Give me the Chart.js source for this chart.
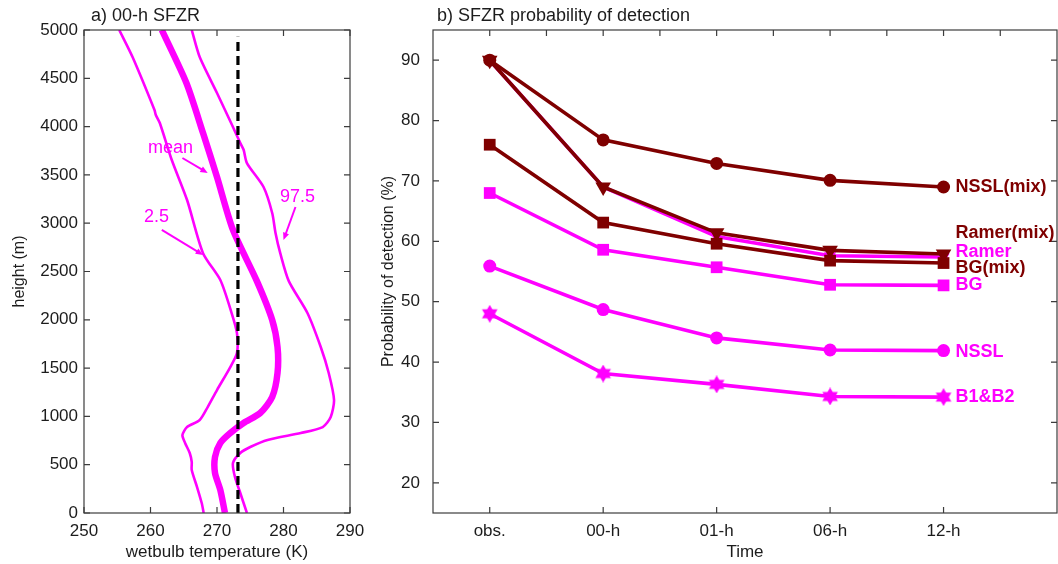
<!DOCTYPE html>
<html>
<head>
<meta charset="utf-8">
<script src="https://cdn.jsdelivr.net/npm/chart.js@4.4.1/dist/chart.umd.min.js"></script>
<style>
  html, body { margin: 0; padding: 0; background: #fff; }
  #wrap { position: relative; width: 1058px; height: 564px; overflow: hidden; }
  #left { position: absolute; left: 0; top: 0; }
  #right { position: absolute; left: 365px; top: 0; }
</style>
</head>
<body>
<div id="wrap">
  <canvas id="left" width="365" height="564" style="width:365px;height:564px"></canvas>
  <canvas id="right" width="693" height="564" style="width:693px;height:564px"></canvas>
</div>
<script>
// ---- panel a: wet-bulb profiles (K vs m) ----
const tempTicks = [250, 260, 270, 280, 290];
const heightTicks = [0, 500, 1000, 1500, 2000, 2500, 3000, 3500, 4000, 4500, 5000];

const lowT = [255.3, 257.3, 260.6, 260.8, 261.4, 263.2, 265.5, 267.9, 270.5, 272.2, 273.0, 273.0, 272.0, 270.0, 268.6, 267.4, 265.5, 264.8, 265.2, 265.9, 266.2, 266.2, 267.0, 267.7, 268.0];
const lowH = [5000, 4720, 4172, 4120, 4037, 3654, 3240, 2690, 2412, 2070, 1863, 1656, 1511, 1273, 1097, 963, 890, 807, 725, 621, 528, 445, 269, 103, 0];

const meanT = [261.7, 265.4, 267.9, 270.0, 272.4, 276.0, 278.3, 279.1, 279.1, 278.3, 276.5, 274.0, 272.0, 270.5, 269.7, 269.7, 270.5, 271.2];
const meanH = [5000, 4451, 3933, 3478, 2930, 2400, 1998, 1718, 1449, 1201, 1035, 932, 828, 725, 580, 414, 238, 0];

const highT = [266.2, 267.4, 270.0, 272.4, 273.5, 274.0, 274.5, 277.0, 278.3, 278.8, 279.5, 280.8, 283.6, 285.6, 286.8, 287.6, 287.1, 285.9, 282.6, 277.6, 275.0, 273.5, 272.4, 272.7, 273.5, 274.5];
const highH = [5000, 4720, 4348, 3996, 3830, 3760, 3623, 3375, 3106, 2899, 2692, 2400, 2070, 1718, 1449, 1170, 994, 890, 828, 756, 683, 621, 518, 373, 207, 0];

const freezingT = [273.15, 273.15];
const freezingH = [0, 4930];

// ---- panel b: probability of detection (%) ----
const categories = ["obs.", "00-h", "01-h", "06-h", "12-h"];
const podTicks = [20, 30, 40, 50, 60, 70, 80, 90];
const nsslMix = [90, 76.8, 72.9, 70.1, 69.0];
const ramerMix = [90, 69.0, 61.4, 58.5, 57.9];
const bgMix = [76.0, 63.1, 59.6, 56.8, 56.4];
const ramer = [90, 69.0, 60.8, 57.6, 57.4];
const bg = [68.0, 58.6, 55.7, 52.8, 52.7];
const nssl = [55.9, 48.7, 44.0, 42.0, 41.9];
const b1b2 = [48.0, 38.1, 36.3, 34.3, 34.2];

const MAGENTA = "#ff00ff";
const DARK = "#7f0000";
const INK = "#1c1c1c";
const FONT = "'Liberation Sans', Arial, Helvetica, sans-serif";

const zip = (xs, ys) => xs.map((x, i) => ({ x, y: ys[i] }));
const byIndex = (vals) => vals.map((y, i) => ({ x: i, y }));

function hexagram(size, color) {
  const c = document.createElement("canvas");
  c.width = c.height = size;
  const g = c.getContext("2d");
  const r = size / 2;
  g.fillStyle = color;
  [-Math.PI / 2, Math.PI / 2].forEach((rot) => {
    g.beginPath();
    for (let k = 0; k < 3; k++) {
      const a = rot + (k * 2 * Math.PI) / 3;
      g.lineTo(r + r * Math.cos(a), r + r * Math.sin(a));
    }
    g.closePath();
    g.fill();
  });
  return c;
}

// box around the plot plus inward tick marks, and the panel title
const framePlugin = {
  id: "frame",
  afterDatasetsDraw(chart, args, opts) {
    const { ctx, chartArea: a, scales } = chart;
    ctx.save();
    ctx.strokeStyle = "#3c3c3c";
    ctx.lineWidth = 1.2;
    ctx.strokeRect(a.left, a.top, a.right - a.left, a.bottom - a.top);
    const len = 6;
    ctx.beginPath();
    (opts.bottom || []).forEach((v) => {
      const px = scales.x.getPixelForValue(v);
      ctx.moveTo(px, a.bottom); ctx.lineTo(px, a.bottom - len);
    });
    (opts.top || []).forEach((v) => {
      const px = scales.x.getPixelForValue(v);
      ctx.moveTo(px, a.top); ctx.lineTo(px, a.top + len);
    });
    (opts.left || []).forEach((v) => {
      const py = scales.y.getPixelForValue(v);
      ctx.moveTo(a.left, py); ctx.lineTo(a.left + len, py);
    });
    (opts.right || []).forEach((v) => {
      const py = scales.y.getPixelForValue(v);
      ctx.moveTo(a.right, py); ctx.lineTo(a.right - len, py);
    });
    ctx.stroke();
    ctx.fillStyle = INK;
    ctx.font = "18px " + FONT;
    ctx.textBaseline = "middle";
    ctx.textAlign = "left";
    ctx.fillText(opts.title, a.left + opts.titleDx, 16);
    ctx.restore();
  },
};

// text labels with arrows, given in data units
const notePlugin = {
  id: "notes",
  afterDatasetsDraw(chart, args, opts) {
    const { ctx, scales } = chart;
    if (!opts.items) return;
    ctx.save();
    ctx.fillStyle = MAGENTA;
    ctx.strokeStyle = MAGENTA;
    ctx.font = "18px " + FONT;
    ctx.textAlign = "center";
    ctx.textBaseline = "middle";
    ctx.lineWidth = 2;
    opts.items.forEach((n) => {
      ctx.fillText(n.text, scales.x.getPixelForValue(n.at[0]), scales.y.getPixelForValue(n.at[1]));
      const x0 = scales.x.getPixelForValue(n.from[0]), y0 = scales.y.getPixelForValue(n.from[1]);
      const x1 = scales.x.getPixelForValue(n.to[0]), y1 = scales.y.getPixelForValue(n.to[1]);
      const ang = Math.atan2(y1 - y0, x1 - x0);
      const head = 8;
      ctx.beginPath();
      ctx.moveTo(x0, y0);
      ctx.lineTo(x1 - Math.cos(ang) * head * 0.8, y1 - Math.sin(ang) * head * 0.8);
      ctx.stroke();
      ctx.beginPath();
      ctx.moveTo(x1, y1);
      ctx.lineTo(x1 - head * Math.cos(ang - 0.4), y1 - head * Math.sin(ang - 0.4));
      ctx.lineTo(x1 - head * Math.cos(ang + 0.4), y1 - head * Math.sin(ang + 0.4));
      ctx.closePath();
      ctx.fill();
    });
    ctx.restore();
  },
};

// series names to the right of the last point
const endLabelPlugin = {
  id: "endLabels",
  afterDatasetsDraw(chart) {
    const { ctx } = chart;
    ctx.save();
    ctx.font = "bold 18px " + FONT;
    ctx.textAlign = "left";
    ctx.textBaseline = "middle";
    chart.data.datasets.forEach((ds, i) => {
      const pts = chart.getDatasetMeta(i).data;
      const p = pts[pts.length - 1];
      ctx.fillStyle = ds.borderColor;
      ctx.fillText(ds.label, p.x + 12, p.y + (ds.labelDy || 0));
    });
    ctx.restore();
  },
};

const tickFont = { family: FONT, size: 17 };
const titleFont = { family: FONT, size: 17 };
const sideTitleFont = { family: FONT, size: 16 };
const noPad = (s) => { s.paddingLeft = 0; s.paddingRight = 0; };

new Chart(document.getElementById("left"), {
  type: "scatter",
  data: {
    datasets: [
      { label: "freezing", data: zip(freezingT, freezingH), showLine: true, borderColor: "#000", borderWidth: 3.2, borderDash: [9, 5], pointRadius: 0 },
      { label: "2.5", data: zip(lowT, lowH), showLine: true, borderColor: MAGENTA, borderWidth: 2.6, pointRadius: 0, tension: 0.25 },
      { label: "mean", data: zip(meanT, meanH), showLine: true, borderColor: MAGENTA, borderWidth: 6.5, pointRadius: 0, tension: 0.25 },
      { label: "97.5", data: zip(highT, highH), showLine: true, borderColor: MAGENTA, borderWidth: 2.6, pointRadius: 0, tension: 0.25 },
    ],
  },
  options: {
    responsive: false,
    animation: false,
    layout: { autoPadding: false, padding: { top: 30, right: 15, left: 0, bottom: 0 } },
    plugins: {
      legend: { display: false },
      tooltip: { enabled: false },
      frame: { title: "a) 00-h SFZR", titleDx: 7, bottom: tempTicks, top: tempTicks, left: heightTicks, right: heightTicks },
      notes: {
        items: [
          { text: "mean", at: [263.0, 3778], from: [264.8, 3675], to: [268.6, 3520] },
          { text: "2.5", at: [260.9, 3064], from: [261.7, 2930], to: [267.9, 2671] },
          { text: "97.5", at: [282.1, 3271], from: [281.8, 3168], to: [280.0, 2826] },
        ],
      },
    },
    scales: {
      x: {
        type: "linear", min: 250, max: 290,
        afterBuildTicks: (s) => { s.ticks = tempTicks.map((v) => ({ value: v })); },
        afterFit: (s) => { s.height = 51; noPad(s); },
        grid: { display: false, drawTicks: false },
        border: { display: false },
        ticks: { font: tickFont, color: INK, padding: 8, maxRotation: 0, callback: (v) => String(v) },
        title: { display: true, text: "wetbulb temperature (K)", font: titleFont, color: INK, padding: { top: 0, bottom: 1 } },
      },
      y: {
        type: "linear", min: 0, max: 5000,
        afterBuildTicks: (s) => { s.ticks = heightTicks.map((v) => ({ value: v })); },
        afterFit: (s) => { s.width = 84; },
        grid: { display: false, drawTicks: false },
        border: { display: false },
        ticks: { font: tickFont, color: INK, padding: 6, callback: (v) => String(v) },
        title: { display: true, text: "height (m)", font: sideTitleFont, color: INK, padding: { top: 10, bottom: 0 } },
      },
    },
  },
  plugins: [framePlugin, notePlugin],
});

const halfTicks = [0, 0.5, 1, 1.5, 2, 2.5, 3, 3.5, 4, 4.5];
const catTicks = categories.map((c, i) => i);

new Chart(document.getElementById("right"), {
  type: "scatter",
  data: {
    datasets: [
      { label: "NSSL(mix)", data: byIndex(nsslMix), borderColor: DARK, backgroundColor: DARK, pointStyle: "circle", pointRadius: 6.5, labelDy: 0 },
      { label: "Ramer(mix)", data: byIndex(ramerMix), borderColor: DARK, backgroundColor: DARK, pointStyle: "triangle", rotation: 180, pointRadius: 9, labelDy: -21 },
      { label: "BG(mix)", data: byIndex(bgMix), borderColor: DARK, backgroundColor: DARK, pointStyle: "rect", pointRadius: 8.3, labelDy: 5 },
      { label: "Ramer", data: byIndex(ramer), borderColor: MAGENTA, backgroundColor: MAGENTA, pointStyle: "triangle", rotation: 180, pointRadius: 7, labelDy: -5 },
      { label: "BG", data: byIndex(bg), borderColor: MAGENTA, backgroundColor: MAGENTA, pointStyle: "rect", pointRadius: 8.3, labelDy: 0 },
      { label: "NSSL", data: byIndex(nssl), borderColor: MAGENTA, backgroundColor: MAGENTA, pointStyle: "circle", pointRadius: 6.5, labelDy: 1 },
      { label: "B1&B2", data: byIndex(b1b2), borderColor: MAGENTA, backgroundColor: MAGENTA, pointStyle: hexagram(18, MAGENTA), pointRadius: 9, labelDy: 0 },
    ].map((d) => Object.assign({ showLine: true, borderWidth: 3.6, pointBorderWidth: 0 }, d)),
  },
  options: {
    responsive: false,
    animation: false,
    layout: { autoPadding: false, padding: { top: 30, right: 1, left: 0, bottom: 0 } },
    plugins: {
      legend: { display: false },
      tooltip: { enabled: false },
      frame: { title: "b) SFZR probability of detection", titleDx: 4, bottom: catTicks, top: halfTicks, left: podTicks, right: podTicks },
    },
    scales: {
      x: {
        type: "linear", min: -0.5, max: 5,
        afterBuildTicks: (s) => { s.ticks = catTicks.map((v) => ({ value: v })); },
        afterFit: (s) => { s.height = 51; noPad(s); },
        grid: { display: false, drawTicks: false },
        border: { display: false },
        ticks: { font: tickFont, color: INK, padding: 8, maxRotation: 0, callback: (v) => categories[v] ?? "" },
        title: { display: true, text: "Time", font: titleFont, color: INK, padding: { top: 0, bottom: 1 } },
      },
      y: {
        type: "linear", min: 15, max: 95,
        afterBuildTicks: (s) => { s.ticks = podTicks.map((v) => ({ value: v })); },
        afterFit: (s) => { s.width = 68; },
        grid: { display: false, drawTicks: false },
        border: { display: false },
        ticks: { font: tickFont, color: INK, padding: 13, callback: (v) => String(v) },
        title: { display: true, text: "Probability of detection (%)", font: sideTitleFont, color: INK, padding: { top: 14, bottom: 0 } },
      },
    },
  },
  plugins: [framePlugin, endLabelPlugin],
});
</script>
</body>
</html>
